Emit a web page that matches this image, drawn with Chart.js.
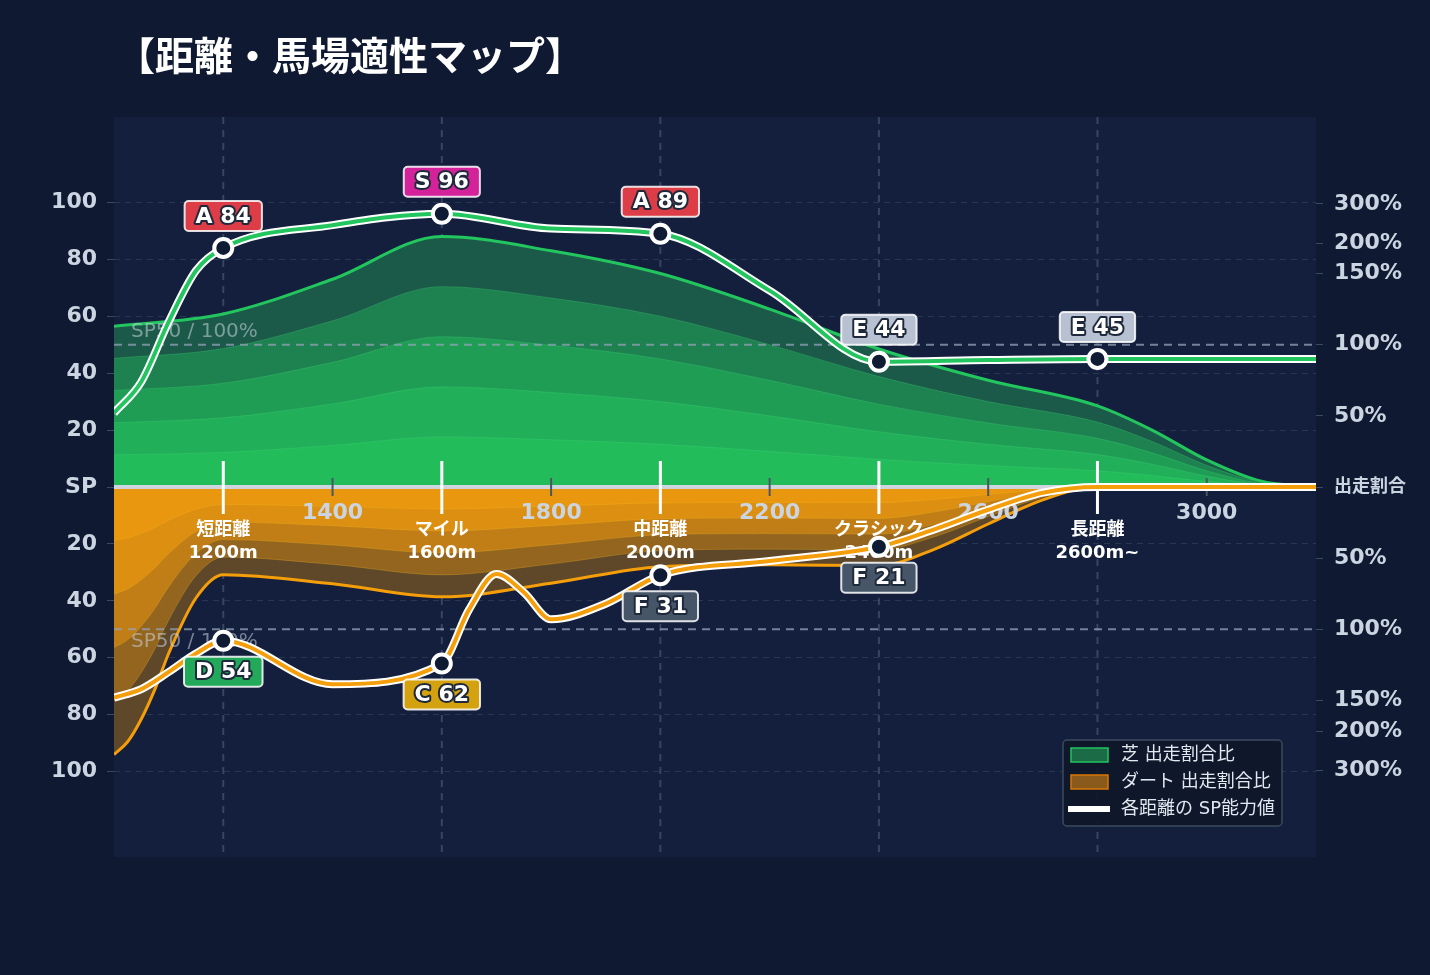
<!DOCTYPE html>
<html lang="ja">
<head>
<meta charset="UTF-8">
<title>距離・馬場適性マップ</title>
<script src="https://cdn.jsdelivr.net/npm/chart.js@4.4.1/dist/chart.umd.min.js"></script>
<style>
    html, body { margin: 0; padding: 0; background: #0f1932; }
    .wrap { position: relative; width: 1430px; height: 975px; }
</style>
</head>
<body>
<div class="wrap"><canvas id="aptitudeChart"></canvas></div>
<script>
// Distance categories
const categoryDist = [1200, 1600, 2000, 2400, 2800];
const categoryNames = ['短距離', 'マイル', '中距離', 'クラシック', '長距離'];
const categoryMeters = ['1200m', '1600m', '2000m', '2400m', '2600m~'];
const xTickValues = [1400, 1800, 2200, 2600, 3000];

// Left axis (SP) and right axis (share ratio)
const leftTickValues = [-100, -80, -60, -40, -20, 0, 20, 40, 60, 80, 100];
const leftTickLabels = ['100', '80', '60', '40', '20', 'SP', '20', '40', '60', '80', '100'];
const rightTickValues = [-99.5, -86, -75, -50, -25, 0, 25, 50, 75, 85.5, 99.5];
const rightTickLabels = ['300%', '200%', '150%', '100%', '50%', '出走割合', '50%', '100%', '150%', '200%', '300%'];

// Turf share (upper area)
const turfShareDist = [1000, 1200, 1400, 1600, 1800, 2000, 2200, 2400, 2600, 2800, 2900, 3000, 3100, 3200];
const turfShare = [56.5, 60.8, 73, 88, 83, 75, 62.5, 48.5, 37.5, 28.5, 20, 9.5, 2, 0];

// Dirt share (lower area)
const dirtShareDist = [1000, 1025, 1050, 1075, 1100, 1150, 1200, 1400, 1600, 1800, 2000, 2200, 2400, 2500, 2600, 2700, 2800, 3000, 3200];
const dirtShare = [-94, -89.5, -81.5, -71, -58.5, -39, -30.8, -34, -38.6, -33.8, -28, -27.3, -27.6, -22, -13, -4.5, 0, 0, 0];

// SP ability lines
const turfSpDist = [1000, 1050, 1100, 1150, 1200, 1400, 1600, 1800, 2000, 2200, 2400, 2600, 2800, 3000, 3200];
const turfSp = [26, 37, 58, 76, 84, 92, 96, 90.8, 89, 69, 44, 44.6, 45, 45, 45];
const dirtSpDist = [1000, 1050, 1100, 1150, 1200, 1400, 1600, 1650, 1700, 1750, 1800, 1900, 2000, 2200, 2400, 2500, 2600, 2700, 2800, 3000, 3200];
const dirtSp = [-74, -71, -65, -58.5, -54, -69.3, -62, -43, -30.6, -37, -46.5, -41, -31, -26, -21, -15, -8, -2, 0, 0, 0];

// Grade badges
const turfBadgeDist = [1200, 1600, 2000, 2400, 2800];
const turfGrades = ['A', 'S', 'A', 'E', 'E'];
const dirtBadgeDist = [1200, 1600, 2000, 2400];
const dirtGrades = ['D', 'C', 'F', 'F'];
const gradeColors = { S: '#d3229a', A: '#dc3d46', C: '#d4a10f', D: '#22a95a', E: '#b8c1d2', F: '#475569' };

// Area bands (outer -> inner)
const bandLevels = [1.0, 0.8, 0.6, 0.4, 0.2];
const turfBandColors = ['#1b5a48', '#1d8150', '#1f9d55', '#21b059', '#22bc5b'];
const dirtBandColors = ['#5e4829', '#94651f', '#c17e16', '#dc8f11', '#e9970f'];

const FONT = '"DejaVu Sans", "Noto Sans CJK JP", sans-serif';

function toPoints(dist, vals, k) {
    return dist.map(function (d, i) { return { x: d, y: vals[i] * (k || 1) }; });
}

function drawOverlay(chart) {
    const ctx = chart.ctx;
    const a = chart.chartArea;
    const x = chart.scales.x;
    const y = chart.scales.y;
    const y0 = y.getPixelForValue(0);
    ctx.save();

    // SP50 / 100% reference lines
    ctx.setLineDash([8, 6]);
    ctx.lineWidth = 2;
    ctx.strokeStyle = 'rgba(148, 163, 184, 0.75)';
    [50, -50].forEach(function (v) {
        const py = y.getPixelForValue(v);
        ctx.beginPath();
        ctx.moveTo(a.left, py);
        ctx.lineTo(a.right, py);
        ctx.stroke();
    });
    ctx.setLineDash([]);
    ctx.font = '20px ' + FONT;
    ctx.fillStyle = 'rgba(203, 213, 225, 0.55)';
    ctx.textBaseline = 'middle';
    ctx.textAlign = 'left';
    ctx.fillText('SP50 / 100%', a.left + 17, y.getPixelForValue(50) - 13);
    ctx.fillText('SP50 / 100%', a.left + 17, y.getPixelForValue(-50) + 12);

    // center line
    ctx.strokeStyle = '#cfd5de';
    ctx.lineWidth = 4;
    ctx.beginPath();
    ctx.moveTo(a.left, y0);
    ctx.lineTo(a.right, y0);
    ctx.stroke();

    // minor ticks
    ctx.strokeStyle = '#4b5563';
    ctx.lineWidth = 2;
    xTickValues.forEach(function (v) {
        const px = x.getPixelForValue(v);
        ctx.beginPath();
        ctx.moveTo(px, y0 - 9);
        ctx.lineTo(px, y0 + 9);
        ctx.stroke();
    });

    // category ticks
    ctx.strokeStyle = '#ffffff';
    ctx.lineWidth = 3;
    categoryDist.forEach(function (v) {
        const px = x.getPixelForValue(v);
        ctx.beginPath();
        ctx.moveTo(px, y0 - 26);
        ctx.lineTo(px, y0 + 27);
        ctx.stroke();
    });

    // distance labels
    ctx.textAlign = 'center';
    ctx.font = 'bold 22px ' + FONT;
    ctx.fillStyle = '#cbd5e1';
    xTickValues.forEach(function (v) {
        ctx.fillText(String(v), x.getPixelForValue(v), y0 + 26);
    });

    ctx.font = 'bold 18px ' + FONT;
    ctx.fillStyle = '#ffffff';
    categoryDist.forEach(function (v, i) {
        const px = x.getPixelForValue(v);
        ctx.fillText(categoryNames[i], px, y0 + 43);
        ctx.fillText(categoryMeters[i], px, y0 + 66);
    });
    ctx.restore();
}

function drawBadge(ctx, cx, cy, grade, value) {
    const text = grade + ' ' + value;
    ctx.font = 'bold 22px ' + FONT;
    const w = ctx.measureText(text).width + 22;
    const h = 30;
    ctx.beginPath();
    ctx.roundRect(cx - w / 2, cy - h / 2, w, h, 4);
    ctx.fillStyle = gradeColors[grade];
    ctx.fill();
    ctx.lineWidth = 2;
    ctx.strokeStyle = 'rgba(255, 255, 255, 0.85)';
    ctx.stroke();
    ctx.textAlign = 'center';
    ctx.textBaseline = 'middle';
    ctx.lineJoin = 'round';
    ctx.lineWidth = 4;
    ctx.strokeStyle = '#1e293b';
    ctx.strokeText(text, cx, cy + 1);
    ctx.fillStyle = '#ffffff';
    ctx.fillText(text, cx, cy + 1);
}

const mapPlugin = {
    id: 'mapPlugin',
    beforeDraw: function (chart) {
        const ctx = chart.ctx;
        const a = chart.chartArea;
        ctx.save();
        ctx.fillStyle = '#131f3c';
        ctx.fillRect(a.left, a.top, a.right - a.left, a.bottom - a.top);
        // Title
        ctx.fillStyle = '#ffffff';
        ctx.font = 'bold 39px "Noto Sans CJK JP", sans-serif';
        ctx.textBaseline = 'middle';
        ctx.textAlign = 'left';
        ctx.fillText('【距離・馬場適性マップ】', 116, 55);
        ctx.restore();
        chart.$overlayDone = false;
    },
    beforeDatasetsDraw: function (chart) {
        const ctx = chart.ctx;
        const a = chart.chartArea;
        const x = chart.scales.x;
        ctx.save();
        ctx.setLineDash([7, 6]);
        ctx.lineWidth = 2;
        ctx.strokeStyle = 'rgba(100, 116, 139, 0.45)';
        categoryDist.forEach(function (v) {
            const px = x.getPixelForValue(v);
            ctx.beginPath();
            ctx.moveTo(px, a.top);
            ctx.lineTo(px, a.bottom);
            ctx.stroke();
        });
        ctx.restore();
    },
    beforeDatasetDraw: function (chart, args) {
        if (!chart.$overlayDone && chart.data.datasets[args.index].spLine) {
            drawOverlay(chart);
            chart.$overlayDone = true;
        }
    },
    afterDatasetsDraw: function (chart) {
        const ctx = chart.ctx;
        ctx.save();
        chart.data.datasets.forEach(function (ds, di) {
            if (!ds.badges) return;
            const meta = chart.getDatasetMeta(di);
            ds.data.forEach(function (p, i) {
                const bi = ds.badges.dist.indexOf(p.x);
                if (bi < 0) return;
                const el = meta.data[i];
                drawBadge(ctx, el.x, el.y + ds.badges.offset, ds.badges.grades[bi], Math.round(Math.abs(p.y)));
            });
        });
        ctx.restore();
    },
    afterDraw: function (chart) {
        const ctx = chart.ctx;
        const a = chart.chartArea;
        const bx = a.right - 253;
        const by = a.bottom - 117;
        ctx.save();
        ctx.beginPath();
        ctx.roundRect(bx, by, 219, 86, 4);
        ctx.fillStyle = 'rgba(15, 23, 42, 0.92)';
        ctx.fill();
        ctx.lineWidth = 1.5;
        ctx.strokeStyle = 'rgba(71, 85, 105, 0.8)';
        ctx.stroke();

        ctx.lineWidth = 1.5;
        ctx.fillStyle = '#1b6b47';
        ctx.strokeStyle = '#22c55e';
        ctx.fillRect(bx + 8, by + 8, 37, 14);
        ctx.strokeRect(bx + 8, by + 8, 37, 14);
        ctx.fillStyle = '#8a5a1c';
        ctx.strokeStyle = '#d97706';
        ctx.fillRect(bx + 8, by + 35, 37, 14);
        ctx.strokeRect(bx + 8, by + 35, 37, 14);
        ctx.strokeStyle = '#ffffff';
        ctx.lineWidth = 6;
        ctx.beginPath();
        ctx.moveTo(bx + 5, by + 69);
        ctx.lineTo(bx + 47, by + 69);
        ctx.stroke();

        ctx.font = '18px ' + FONT;
        ctx.fillStyle = '#e2e8f0';
        ctx.textBaseline = 'middle';
        ctx.textAlign = 'left';
        ctx.fillText('芝 出走割合比', bx + 58, by + 15);
        ctx.fillText('ダート 出走割合比', bx + 58, by + 42);
        ctx.fillText('各距離の SP能力値', bx + 58, by + 69);
        ctx.restore();
    }
};

document.addEventListener('DOMContentLoaded', function () {
    Chart.defaults.font.family = FONT;

    const turfBands = bandLevels.map(function (k, i) {
        return {
            label: '芝 出走割合比',
            data: toPoints(turfShareDist, turfShare, k),
            fill: 'origin',
            backgroundColor: turfBandColors[i],
            borderColor: i === 0 ? '#22c55e' : 'rgba(74, 222, 128, 0.25)',
            borderWidth: i === 0 ? 3 : 1,
            pointRadius: 0,
            cubicInterpolationMode: 'monotone',
            order: 14 - i
        };
    });
    const dirtBands = bandLevels.map(function (k, i) {
        return {
            label: 'ダート 出走割合比',
            data: toPoints(dirtShareDist, dirtShare, k),
            fill: 'origin',
            backgroundColor: dirtBandColors[i],
            borderColor: i === 0 ? '#f59e0b' : 'rgba(251, 191, 36, 0.25)',
            borderWidth: i === 0 ? 3 : 1,
            pointRadius: 0,
            cubicInterpolationMode: 'monotone',
            order: 24 - i
        };
    });

    function spOutline(dist, vals, order) {
        return {
            label: 'outline',
            data: toPoints(dist, vals),
            fill: false,
            borderColor: '#ffffff',
            borderWidth: 8,
            pointRadius: 0,
            cubicInterpolationMode: 'monotone',
            order: order,
            spLine: true
        };
    }
    function spLine(dist, vals, color, badgeDist, grades, offset, order) {
        return {
            label: '各距離の SP能力値',
            data: toPoints(dist, vals),
            fill: false,
            borderColor: color,
            borderWidth: 4,
            pointRadius: function (c) { return c.raw && badgeDist.indexOf(c.raw.x) >= 0 ? 9 : 0; },
            pointBorderWidth: 4,
            pointBorderColor: '#ffffff',
            pointBackgroundColor: '#0f1a33',
            cubicInterpolationMode: 'monotone',
            order: order,
            spLine: true,
            badges: { dist: badgeDist, grades: grades, offset: offset }
        };
    }

    const ctxMap = document.getElementById('aptitudeChart').getContext('2d');
    new Chart(ctxMap, {
        type: 'line',
        data: {
            datasets: [
                spLine(turfSpDist, turfSp, '#22c55e', turfBadgeDist, turfGrades, -32, 0),
                spLine(dirtSpDist, dirtSp, '#f59e0b', dirtBadgeDist, dirtGrades, 31, 1),
                spOutline(turfSpDist, turfSp, 2),
                spOutline(dirtSpDist, dirtSp, 3)
            ].concat(turfBands, dirtBands)
        },
        options: {
            responsive: true,
            maintainAspectRatio: false,
            animation: false,
            events: [],
            layout: { padding: { top: 117, bottom: 118, left: 0, right: 0 } },
            scales: {
                x: {
                    type: 'linear',
                    min: 1000,
                    max: 3200,
                    display: false
                },
                y: {
                    position: 'left',
                    min: -130,
                    max: 130,
                    afterBuildTicks: function (s) { s.ticks = leftTickValues.map(function (v) { return { value: v }; }); },
                    afterFit: function (s) { s.width = 114; },
                    ticks: {
                        color: '#cbd5e1',
                        padding: 10,
                        font: { size: 22, weight: 'bold' },
                        callback: function (value) { return leftTickLabels[leftTickValues.indexOf(value)]; }
                    },
                    grid: {
                        color: 'rgba(100, 116, 139, 0.28)',
                        lineWidth: 1,
                        tickColor: '#3b4a63',
                        tickLength: 7,
                        tickBorderDash: []
                    },
                    border: { display: false, dash: [6, 5] }
                },
                y2: {
                    position: 'right',
                    min: -130,
                    max: 130,
                    afterBuildTicks: function (s) { s.ticks = rightTickValues.map(function (v) { return { value: v }; }); },
                    afterFit: function (s) { s.width = 114; },
                    ticks: {
                        color: '#cbd5e1',
                        padding: 11,
                        font: function (c) { return { size: c.tick && c.tick.value === 0 ? 18 : 22, weight: 'bold' }; },
                        callback: function (value) { return rightTickLabels[rightTickValues.indexOf(value)]; }
                    },
                    grid: {
                        drawOnChartArea: false,
                        tickColor: '#3b4a63',
                        tickLength: 7
                    },
                    border: { display: false }
                }
            },
            plugins: {
                legend: { display: false },
                tooltip: { enabled: false },
                title: { display: false }
            }
        },
        plugins: [mapPlugin]
    });
});
</script>
</body>
</html>
